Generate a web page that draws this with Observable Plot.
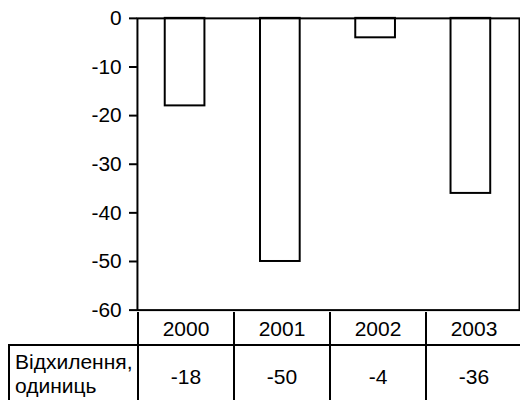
<!DOCTYPE html>
<html><head><meta charset="utf-8">
<script src="https://cdn.jsdelivr.net/npm/d3@7"></script>
<script src="https://cdn.jsdelivr.net/npm/@observablehq/plot@0.6"></script>
<style>
html,body{margin:0;padding:0;background:#fff;overflow:hidden;}
#wrap{position:relative;width:520px;height:400px;overflow:hidden;font-family:"Liberation Sans",Arial,sans-serif;background:#fff;}
#wrap svg{display:block;}
.ln{position:absolute;background:#000;}
.tx{position:absolute;font-size:21px;color:#000;white-space:nowrap;}
</style></head><body><div id="wrap"></div>
<script>
const years = ["2000", "2001", "2002", "2003"];
const values = [-18, -50, -4, -36];
const yTicks = [0, -10, -20, -30, -40, -50, -60];
const rowLabel = ["Відхилення,", "одиниць"];

const data = years.map((year, i) => ({year, value: values[i]}));

const plot = Plot.plot({
  width: 524, height: 400,
  marginTop: 18, marginBottom: 88, marginLeft: 138, marginRight: 1,
  style: {fontFamily: '"Liberation Sans", Arial, sans-serif', fontSize: "21px", background: "white", color: "black"},
  x: {domain: years, paddingInner: 0.58, paddingOuter: 0.29, axis: null},
  y: {domain: [-60, 0]},
  marks: [
    Plot.barY(data, {x: "year", y: "value", fill: "white", stroke: "black", strokeWidth: 2}),
    Plot.frame({stroke: "black", strokeWidth: 2}),
    Plot.axisY({ticks: yTicks, tickSize: 8, tickPadding: 8, tickFormat: d => String(d), label: null, fontSize: 21, strokeWidth: 2})
  ]
});

const wrap = document.getElementById("wrap");
wrap.appendChild(plot);

const xs = plot.scale("x");
const ys = plot.scale("y");
const step = xs.step, bw = xs.bandwidth;
const colStart = d => xs.apply(d) + bw / 2 - step / 2;
const tableTop = ys.apply(-60);
const headerH = 33;
const H = 400;
const labelLeft = 9;

function line(x, y, w, h) {
  const el = document.createElement("div");
  el.className = "ln";
  el.style.left = x + "px"; el.style.top = y + "px";
  el.style.width = w + "px"; el.style.height = h + "px";
  wrap.appendChild(el);
}
function text(str, cx, cy, anchor) {
  const el = document.createElement("div");
  el.className = "tx";
  el.textContent = str;
  el.style.left = cx + "px"; el.style.top = cy + "px";
  el.style.lineHeight = "24px";
  el.style.transform = anchor === "start" ? "translate(0,-50%)" : "translate(-50%,-50%)";
  wrap.appendChild(el);
}

// horizontal line under header row
line(labelLeft - 1, tableTop + headerH - 1, 530, 2);
// column separators (including axis continuation)
years.forEach(d => line(colStart(d) - 1, tableTop, 2, H - tableTop));
// left border of row label cell
line(labelLeft - 1, tableTop + headerH, 2, H - tableTop - headerH);

// header + values
years.forEach((d, i) => {
  const cx = colStart(d) + step / 2;
  text(d, cx, tableTop + headerH / 2);
  text(String(values[i]), cx, tableTop + headerH + 32);
});
// row label
rowLabel.forEach((s, i) => text(s, 15, tableTop + headerH + 17 + i * 24, "start"));
</script></body></html>
